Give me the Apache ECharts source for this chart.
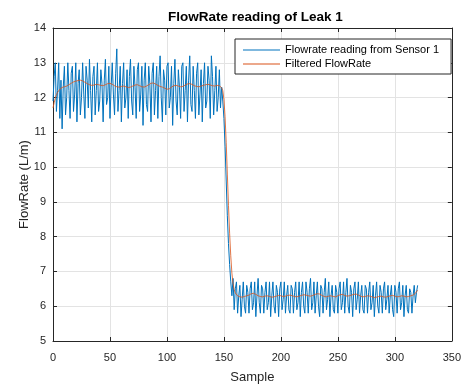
<!DOCTYPE html>
<html>
<head>
<meta charset="utf-8">
<script src="https://cdn.jsdelivr.net/npm/echarts@6/dist/echarts.min.js"></script>
<style>
html,body{margin:0;padding:0;background:#fff;}
#chart{width:464px;height:389px;}
</style>
</head>
<body>
<div id="chart"></div>
<script>
var titleText = 'FlowRate reading of Leak 1';
var xName = 'Sample';
var yName = 'FlowRate (L/m)';
var seriesNames = ['Flowrate reading from Sensor 1', 'Filtered FlowRate'];

var sensor = [
11.9,12.6,13.0,11.6,12.2,13.0,11.4,12.5,11.1,12.3,
12.9,11.5,12.0,13.0,12.2,11.4,12.7,12.9,11.6,12.1,
13.0,11.3,12.4,12.8,11.5,12.0,13.0,12.1,11.4,12.9,
12.5,11.7,13.1,12.2,11.3,12.6,12.9,11.5,12.2,13.0,
11.6,11.9,12.8,12.4,11.3,12.5,13.1,11.8,12.0,12.9,
11.4,12.3,13.0,12.1,11.5,12.7,13.4,11.6,12.2,12.9,
11.3,12.4,13.0,11.7,12.0,12.8,11.4,12.6,13.1,11.9,
11.5,12.9,12.3,11.4,12.8,13.0,11.6,12.1,12.9,11.2,
12.5,13.0,11.8,11.6,12.9,12.4,11.3,12.7,13.0,11.5,
12.2,12.9,11.4,12.6,13.2,12.0,11.3,12.8,12.5,11.5,
12.9,13.0,11.7,12.0,12.9,11.2,12.4,13.1,11.9,11.5,
12.8,12.3,11.4,12.9,13.0,11.6,12.2,12.9,11.3,12.5,
13.2,11.8,11.6,12.9,12.2,11.4,12.7,13.0,11.5,12.1,
12.8,11.3,12.4,13.0,11.7,11.9,12.9,12.5,11.4,13.2,
12.6,11.5,12.2,12.9,11.6,12.0,12.8,11.7,12.3,11.9,
11.4,10.6,9.6,8.6,7.8,7.2,6.7,6.3,6.8,5.9,
6.5,6.7,5.8,6.3,6.6,5.7,6.2,6.7,6.0,5.8,
6.6,6.4,5.8,6.5,6.7,5.9,6.1,6.7,5.7,6.3,
6.8,6.1,5.8,6.6,6.5,5.8,6.4,6.7,5.9,6.1,
6.7,5.7,6.3,6.7,6.0,5.8,6.6,6.4,5.7,6.5,
6.7,5.9,6.2,6.7,5.8,6.3,6.6,5.9,5.8,6.6,
6.5,5.8,6.4,6.7,5.9,6.1,6.7,5.7,6.4,6.7,
6.0,5.8,6.7,6.4,5.8,6.5,6.8,5.9,6.1,6.7,
5.8,6.3,6.7,6.0,5.7,6.6,6.5,5.8,6.4,6.8,
5.9,6.2,6.7,5.7,6.3,6.6,5.9,5.8,6.6,6.4,
5.8,6.5,6.7,5.9,6.1,6.7,5.8,6.4,6.8,6.0,
5.8,6.6,6.4,5.7,6.5,6.7,5.9,6.2,6.7,5.8,
6.3,6.6,5.9,5.8,6.6,6.5,5.8,6.4,6.7,5.9,
6.1,6.6,5.7,6.3,6.7,6.0,5.8,6.6,6.4,5.8,
6.5,6.7,5.9,6.2,6.6,5.8,6.3,6.6,5.9,5.7,
6.6,6.4,5.8,6.5,6.7,5.9,6.1,6.6,5.7,6.3,
6.6,5.9,5.8,6.5,6.4,5.8,6.3,6.6,6.1,6.4,
6.6
];

var filtered = [
11.70,11.85,11.98,12.08,12.15,12.20,12.24,12.27,12.29,12.30,
12.31,12.32,12.33,12.35,12.37,12.39,12.41,12.43,12.45,12.46,
12.47,12.48,12.49,12.50,12.50,12.49,12.48,12.46,12.44,12.42,
12.40,12.38,12.37,12.36,12.35,12.35,12.36,12.37,12.38,12.38,
12.37,12.36,12.35,12.34,12.34,12.35,12.37,12.39,12.40,12.41,
12.41,12.40,12.38,12.36,12.34,12.32,12.31,12.30,12.30,12.31,
12.32,12.33,12.33,12.32,12.31,12.30,12.29,12.29,12.30,12.31,
12.33,12.35,12.36,12.37,12.37,12.36,12.34,12.32,12.31,12.30,
12.30,12.31,12.33,12.35,12.37,12.39,12.41,12.42,12.42,12.41,
12.39,12.37,12.35,12.33,12.32,12.31,12.30,12.29,12.27,12.25,
12.24,12.24,12.25,12.27,12.30,12.32,12.34,12.35,12.35,12.34,
12.33,12.32,12.31,12.31,12.32,12.34,12.36,12.38,12.39,12.40,
12.40,12.39,12.38,12.36,12.34,12.33,12.32,12.31,12.31,12.32,
12.33,12.34,12.35,12.36,12.37,12.38,12.38,12.37,12.36,12.35,
12.34,12.33,12.33,12.34,12.35,12.35,12.34,12.32,12.28,12.20,
11.95,11.45,10.70,9.80,8.90,8.10,7.45,6.95,6.65,6.48,
6.38,6.33,6.30,6.28,6.27,6.26,6.26,6.27,6.28,6.29,
6.30,6.31,6.32,6.34,6.36,6.37,6.37,6.36,6.34,6.32,
6.30,6.29,6.28,6.27,6.27,6.28,6.29,6.30,6.30,6.29,
6.28,6.27,6.26,6.26,6.27,6.28,6.29,6.30,6.31,6.31,
6.30,6.29,6.28,6.28,6.29,6.30,6.31,6.32,6.32,6.31,
6.30,6.29,6.28,6.27,6.27,6.28,6.29,6.30,6.31,6.32,
6.33,6.33,6.32,6.31,6.30,6.29,6.29,6.30,6.31,6.32,
6.34,6.35,6.36,6.36,6.35,6.33,6.31,6.29,6.28,6.27,
6.27,6.28,6.29,6.30,6.30,6.29,6.28,6.27,6.27,6.28,
6.30,6.32,6.33,6.34,6.34,6.33,6.31,6.30,6.29,6.29,
6.30,6.31,6.32,6.33,6.34,6.35,6.35,6.34,6.32,6.30,
6.29,6.28,6.27,6.27,6.28,6.29,6.30,6.30,6.29,6.28,
6.27,6.26,6.25,6.25,6.26,6.27,6.28,6.29,6.29,6.28,
6.27,6.26,6.26,6.27,6.28,6.29,6.30,6.31,6.31,6.30,
6.29,6.28,6.27,6.27,6.28,6.29,6.30,6.30,6.29,6.28,
6.27,6.27,6.28,6.29,6.30,6.31,6.32,6.34,6.37,6.41,
6.46
];

var xTicks = [0, 50, 100, 150, 200, 250, 300, 350];
var yTicks = [5, 6, 7, 8, 9, 10, 11, 12, 13, 14];

function pairs(arr) { return arr.map(function (v, i) { return [i, v]; }); }

var FONT = '"Liberation Sans", Arial, Helvetica, sans-serif';
var AX = '#262626';

var chart = echarts.init(document.getElementById('chart'), null, {renderer: 'canvas'});

function axisCommon(showLabels) {
  return {
    axisLine: {show: true, onZero: false, lineStyle: {color: AX, width: 1}},
    axisTick: {show: true, inside: true, length: 4, lineStyle: {color: AX}},
    axisLabel: {show: showLabels, color: AX, fontFamily: FONT, fontSize: 11},
    splitLine: {show: false}
  };
}

var option = {
  animation: false,
  backgroundColor: '#ffffff',
  title: {
    text: titleText,
    left: 163, top: 5,
    textStyle: {fontFamily: FONT, fontSize: 13.5, fontWeight: 'bold', color: '#000'}
  },
  grid: {left: 53, right: 8, top: 28, bottom: 44, show: false},
  legend: {
    left: 235, top: 39,
    orient: 'vertical',
    data: [
      {name: seriesNames[0], icon: 'rect'},
      {name: seriesNames[1], icon: 'rect'}
    ],
    itemWidth: 37, itemHeight: 1, itemGap: 2,
    padding: [5, 12, 4, 8],
    backgroundColor: '#ffffff',
    borderColor: AX, borderWidth: 1,
    borderRadius: 0,
    textStyle: {fontFamily: FONT, fontSize: 11, color: '#000', lineHeight: 12}
  },
  xAxis: [
    Object.assign(axisCommon(true), {
      type: 'value', min: 0, max: 350, interval: 50, position: 'bottom',
      name: xName, nameLocation: 'middle', nameGap: 30, nameMoveOverlap: false,
      nameTextStyle: {fontFamily: FONT, fontSize: 13, color: AX},
      axisLabel: {show: true, color: AX, fontFamily: FONT, fontSize: 11, margin: 11,
        formatter: function (v) { return xTicks.indexOf(v) >= 0 ? String(v) : ''; }},
      splitLine: {show: true, lineStyle: {color: '#e3e3e3', width: 1}}
    }),
    Object.assign(axisCommon(false), {
      type: 'value', min: 0, max: 350, interval: 50, position: 'top'
    })
  ],
  yAxis: [
    Object.assign(axisCommon(true), {
      type: 'value', min: 5, max: 14, interval: 1, position: 'left',
      name: yName, nameLocation: 'middle', nameGap: 22, nameMoveOverlap: false,
      nameTextStyle: {fontFamily: FONT, fontSize: 13, color: AX},
      axisLabel: {show: true, color: AX, fontFamily: FONT, fontSize: 11, margin: 7,
        formatter: function (v) { return yTicks.indexOf(v) >= 0 ? String(v) : ''; }},
      splitLine: {show: true, lineStyle: {color: '#e3e3e3', width: 1}}
    }),
    Object.assign(axisCommon(false), {
      type: 'value', min: 5, max: 14, interval: 1, position: 'right'
    })
  ],
  series: [
    {
      name: seriesNames[0], type: 'line', data: pairs(sensor),
      xAxisIndex: 0, yAxisIndex: 0,
      symbol: 'none', lineStyle: {color: '#0072BD', width: 1},
      itemStyle: {color: '#0072BD'}, z: 2
    },
    {
      name: seriesNames[1], type: 'line', data: pairs(filtered),
      xAxisIndex: 0, yAxisIndex: 0,
      symbol: 'none', lineStyle: {color: '#D95319', width: 0.8},
      itemStyle: {color: '#D95319'}, z: 3
    }
  ]
};
chart.setOption(option);
</script>
</body>
</html>
